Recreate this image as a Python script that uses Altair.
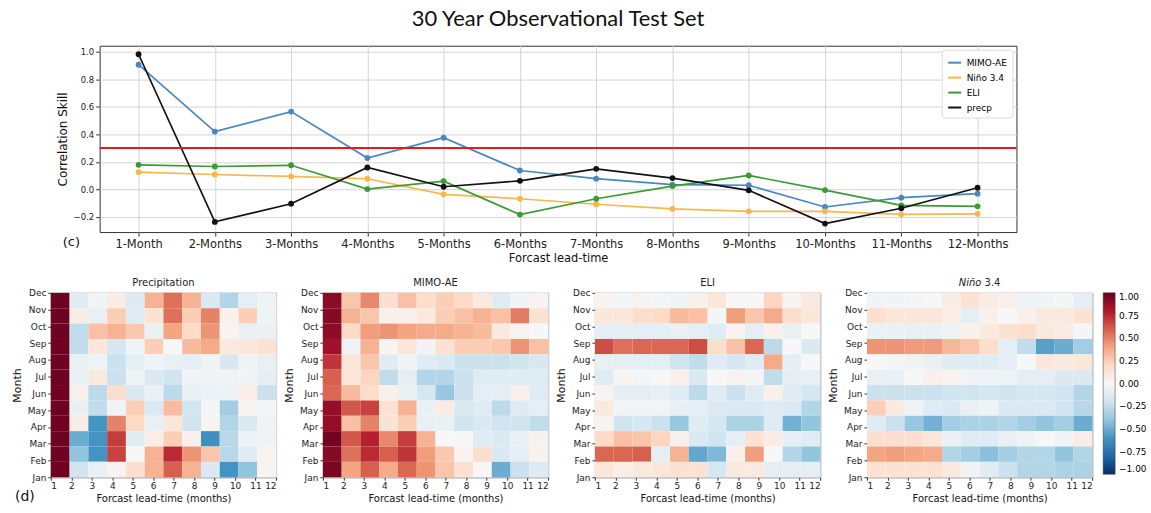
import altair as alt
import pandas as pd

# ---------------- line chart: correlation skill vs lead time ----------------
leads = list(range(1, 13))
series_names = ["MIMO-AE", "Niño 3.4", "ELI", "precp"]
series_colors = ["#4a86c0", "#f8b64c", "#3c9a35", "#111111"]

mimo_ae = [0.905, 0.42, 0.565, 0.228, 0.375, 0.137, 0.078, 0.034, 0.03, -0.128, -0.06, -0.031]
nino34 = [0.125, 0.108, 0.094, 0.077, -0.036, -0.068, -0.108, -0.142, -0.159, -0.159, -0.181, -0.178]
eli = [0.178, 0.166, 0.175, 0.002, 0.06, -0.183, -0.068, 0.024, 0.101, -0.005, -0.116, -0.123]
precp = [0.981, -0.236, -0.104, 0.159, 0.019, 0.062, 0.149, 0.082, -0.007, -0.248, -0.137, 0.012]
skill_threshold = 0.3
y_ticks = [-0.2, 0.0, 0.2, 0.4, 0.6, 0.8, 1.0]

# ---------------- monthly skill matrices (rows Dec -> Jan, columns lead 1..12) ----------------
months = ["Jan", "Feb", "Mar", "Apr", "May", "Jun", "Jul", "Aug", "Sep", "Oct", "Nov", "Dec"]

precip_rows = [
    [0.98, -0.12, -0.03, 0.08, -0.13, 0.35, 0.55, 0.35, -0.15, -0.30, -0.10, -0.05],
    [0.98, 0.08, -0.08, 0.25, -0.12, 0.15, 0.55, 0.25, 0.50, 0.04, 0.25, -0.05],
    [0.98, -0.25, 0.30, 0.35, 0.27, -0.07, 0.40, 0.20, 0.45, 0.03, -0.08, -0.07],
    [0.98, -0.25, 0.12, -0.18, -0.05, 0.25, 0.00, 0.32, 0.38, 0.10, 0.12, 0.15],
    [0.98, -0.08, -0.05, -0.22, -0.10, -0.05, -0.08, -0.10, -0.05, -0.17, -0.05, -0.08],
    [0.98, -0.07, 0.10, -0.22, -0.05, -0.15, -0.20, -0.03, -0.03, -0.04, -0.03, -0.10],
    [0.98, 0.05, -0.27, 0.18, -0.15, -0.07, -0.27, -0.08, -0.06, -0.06, 0.07, -0.22],
    [0.98, -0.08, -0.25, -0.04, 0.25, -0.15, 0.32, -0.20, -0.02, -0.35, 0.03, -0.02],
    [0.98, 0.08, -0.60, 0.50, 0.20, -0.08, 0.12, -0.20, 0.02, -0.30, -0.15, -0.04],
    [0.98, -0.50, -0.60, 0.70, -0.12, 0.07, 0.25, 0.05, -0.62, -0.28, -0.06, -0.05],
    [0.98, -0.40, -0.60, 0.68, 0.00, 0.35, 0.75, 0.45, 0.28, -0.28, -0.12, 0.03],
    [0.98, -0.20, -0.08, 0.03, 0.17, 0.35, 0.60, 0.35, -0.15, -0.60, -0.40, 0.03],
]

mimo_rows = [
    [0.90, 0.28, 0.48, 0.17, 0.30, 0.18, 0.25, 0.20, 0.10, -0.12, -0.03, 0.03],
    [0.92, 0.35, 0.28, 0.05, 0.05, 0.10, 0.25, 0.30, 0.35, 0.30, 0.52, 0.15],
    [0.90, 0.20, 0.42, 0.45, 0.40, 0.38, 0.38, 0.35, 0.32, 0.10, 0.03, 0.00],
    [0.85, -0.03, 0.35, 0.02, 0.12, -0.03, 0.15, 0.25, 0.25, 0.27, 0.45, 0.30],
    [0.72, 0.12, 0.28, -0.12, -0.03, -0.12, -0.15, -0.22, -0.22, -0.22, -0.20, -0.17],
    [0.60, 0.12, 0.22, -0.25, -0.10, -0.30, -0.30, -0.22, -0.12, -0.12, -0.12, -0.12],
    [0.58, 0.32, 0.18, 0.05, -0.07, -0.18, -0.38, -0.22, -0.10, -0.10, 0.05, -0.12],
    [0.88, 0.62, 0.68, 0.15, 0.35, -0.08, 0.08, -0.17, -0.12, -0.27, -0.13, -0.10],
    [0.88, 0.30, 0.50, 0.15, 0.25, -0.08, -0.07, -0.20, -0.15, -0.20, -0.20, -0.25],
    [0.97, 0.62, 0.78, 0.48, 0.70, 0.35, 0.00, 0.00, -0.12, -0.15, -0.07, 0.04],
    [0.92, 0.55, 0.75, 0.60, 0.72, 0.42, 0.27, 0.03, 0.18, -0.15, -0.10, 0.04],
    [0.95, 0.40, 0.60, 0.38, 0.58, 0.45, 0.28, 0.15, 0.00, -0.50, -0.22, -0.13],
]

eli_rows = [
    [0.03, -0.02, 0.03, -0.02, -0.03, 0.05, 0.12, 0.00, 0.00, 0.22, 0.02, 0.10],
    [0.12, 0.12, 0.18, 0.20, 0.32, 0.30, -0.02, 0.42, 0.28, 0.38, 0.18, 0.12],
    [-0.10, -0.10, -0.10, -0.10, -0.08, -0.10, -0.12, 0.03, -0.10, 0.05, -0.08, 0.00],
    [0.65, 0.55, 0.58, 0.58, 0.58, 0.65, 0.18, 0.30, 0.58, -0.27, 0.00, -0.15],
    [-0.08, -0.10, -0.10, -0.10, -0.20, -0.25, -0.12, -0.18, -0.12, 0.38, -0.10, 0.00],
    [-0.12, 0.02, -0.02, 0.00, 0.05, -0.15, 0.00, 0.03, -0.02, -0.25, -0.10, -0.08],
    [0.03, -0.10, -0.10, -0.08, -0.12, -0.27, -0.12, -0.22, -0.12, 0.05, -0.12, -0.18],
    [0.10, -0.03, -0.03, -0.03, -0.08, -0.10, -0.15, -0.15, -0.15, -0.12, -0.15, -0.30],
    [0.03, -0.20, -0.17, -0.22, -0.38, -0.12, -0.18, -0.32, -0.32, -0.12, -0.48, -0.40],
    [0.20, 0.30, 0.28, 0.22, 0.05, -0.15, -0.20, -0.10, 0.15, 0.08, -0.10, -0.12],
    [0.58, 0.58, 0.60, -0.10, 0.35, -0.52, -0.45, 0.05, 0.42, 0.00, -0.30, -0.40],
    [0.12, 0.07, 0.10, 0.12, 0.15, 0.15, -0.18, 0.10, 0.10, -0.10, -0.10, -0.10],
]

nino_rows = [
    [-0.03, -0.03, -0.02, 0.00, 0.08, 0.15, 0.08, 0.05, -0.05, -0.03, -0.02, -0.10],
    [0.17, 0.12, 0.12, 0.12, 0.07, -0.10, 0.05, 0.00, 0.05, 0.10, 0.10, 0.15],
    [-0.07, -0.07, -0.08, -0.07, -0.05, 0.05, 0.10, 0.15, 0.18, 0.10, 0.08, -0.02],
    [0.45, 0.45, 0.43, 0.43, 0.33, 0.28, 0.18, -0.10, -0.25, -0.55, -0.50, -0.35],
    [0.00, -0.02, -0.05, -0.08, -0.12, -0.12, -0.12, -0.10, 0.00, 0.12, 0.10, 0.12],
    [-0.08, -0.08, 0.00, 0.05, 0.03, -0.03, -0.05, -0.05, -0.10, -0.10, -0.15, -0.15],
    [-0.22, -0.22, -0.22, -0.22, -0.20, -0.20, -0.18, -0.20, -0.18, -0.18, -0.20, -0.30],
    [0.25, 0.10, -0.05, -0.12, -0.15, -0.08, -0.05, -0.15, -0.15, -0.15, -0.20, -0.28],
    [-0.12, -0.22, -0.38, -0.48, -0.35, -0.32, -0.32, -0.30, -0.35, -0.40, -0.35, -0.50],
    [0.17, 0.17, 0.17, 0.12, -0.07, -0.12, -0.12, -0.08, -0.05, 0.00, -0.03, 0.07],
    [0.40, 0.42, 0.40, 0.38, -0.30, -0.35, -0.42, -0.35, -0.30, -0.30, -0.40, -0.30],
    [0.15, 0.15, 0.15, 0.15, 0.10, -0.03, -0.12, -0.22, -0.30, -0.30, -0.32, -0.32],
]

colorbar_ticks = [1.0, 0.75, 0.5, 0.25, 0.0, -0.25, -0.5, -0.75, -1.0]
# diverging red-blue palette (blue = negative, red = positive), stops every 0.2
rdbu_stops = [-1.0, -0.8, -0.6, -0.4, -0.2, 0.0, 0.2, 0.4, 0.6, 0.8, 1.0]
rdbu_colors = ["#053061", "#2166ac", "#4393c3", "#92c5de", "#d1e5f0", "#f7f7f7",
               "#fddbc7", "#f4a582", "#d6604d", "#b2182b", "#67001f"]

FONT = "DejaVu Sans"

# ---------------- line chart ----------------
line_df = pd.DataFrame(
    [
        {"lead": lead, "skill": v, "series": name}
        for name, vals in zip(series_names, [mimo_ae, nino34, eli, precp])
        for lead, v in zip(leads, vals)
    ]
)

LW, LH = 920, 187
x_line = alt.X(
    "lead:Q",
    scale=alt.Scale(domain=[0.49, 12.51], nice=False, zero=False),
    axis=alt.Axis(
        values=leads,
        labelExpr="datum.value == 1 ? '1-Month' : datum.value + '-Months'",
        title="Forcast lead-time",
        grid=True,
        gridColor="#d4d4d4",
        labelFontSize=11.5,
        titleFontSize=11.5,
        tickSize=4,
        labelPadding=2,
        titlePadding=3,
    ),
)
y_line = alt.Y(
    "skill:Q",
    scale=alt.Scale(domain=[-0.31, 1.043], nice=False, zero=False),
    axis=alt.Axis(
        values=y_ticks,
        format=".1f",
        title="Correlation Skill",
        grid=True,
        gridColor="#d4d4d4",
        labelFontSize=8.5,
        labelOverlap=False,
        labelFlush=False,
        titleFontSize=12,
        tickSize=4,
        labelPadding=2,
        titlePadding=4,
    ),
)
color_line = alt.Color(
    "series:N",
    scale=alt.Scale(domain=series_names, range=series_colors),
    legend=alt.Legend(
        title=None,
        orient="top-right",
        offset=4,
        symbolType="stroke",
        symbolStrokeWidth=2,
        symbolSize=170,
        labelFontSize=9,
        labelFont=FONT,
        rowPadding=2,
        padding=5,
        fillColor="white",
        strokeColor="#dddddd",
        cornerRadius=3,
    ),
)

line_base = alt.Chart(line_df)
lines = line_base.mark_line(strokeWidth=1.7).encode(x=x_line, y=y_line, color=color_line)
dots = line_base.mark_circle(size=34, opacity=1).encode(x=x_line, y=y_line, color=color_line)
threshold = alt.Chart(pd.DataFrame({"skill": [skill_threshold]})).mark_rule(
    color="#e8191d", strokeWidth=2
).encode(y=y_line)
tag_c = alt.Chart(pd.DataFrame({"tag": ["(c)"]})).mark_text(
    align="left", baseline="middle", fontSize=13, font=FONT, color="#111"
).encode(x=alt.value(-37), y=alt.value(LH + 10), text="tag:N")

line_chart = alt.layer(lines, dots, threshold, tag_c).properties(
    width=LW,
    height=LH,
    title=alt.TitleParams(
        "30 Year Observational Test Set",
        fontSize=22,
        font="Lato",
        fontWeight="normal",
        anchor="middle",
        frame="group",
        offset=15,
        color="#111",
    ),
)

spacer = (
    alt.Chart(pd.DataFrame({"s": [0]}))
    .mark_point(opacity=0)
    .encode(x=alt.value(0), y=alt.value(0))
    .properties(width=2, height=10, view=alt.ViewBackground(stroke="transparent"))
)

top_row = alt.hconcat(spacer, line_chart, spacing=0).resolve_scale(color="independent")

# ---------------- heatmaps ----------------
HW, HH = 226, 185
month_expr = "[" + ",".join(f"'{m}'" for m in months) + "][datum.value - 1]"

color_heat = alt.Color(
    "corr:Q",
    scale=alt.Scale(domain=rdbu_stops, range=rdbu_colors, interpolate="rgb"),
    legend=alt.Legend(
        title=None,
        orient="right",
        direction="vertical",
        type="gradient",
        gradientLength=182,
        gradientThickness=12,
        gradientStrokeColor="#333",
        gradientStrokeWidth=0.5,
        values=colorbar_ticks,
        format=".2f",
        labelFontSize=9,
        labelFont=FONT,
        labelOffset=4,
        offset=10,
        padding=0,
    ),
)


def heat_panel(rows, title_parts):
    recs = []
    for r, vals in enumerate(rows):
        month = 12 - r
        for c, v in enumerate(vals):
            recs.append({"lead": c + 1, "month": month, "corr": v})
    df = pd.DataFrame(recs)
    cells = (
        alt.Chart(df)
        .transform_calculate(
            x0="1 + (datum.lead - 1) * 11 / 12",
            x1="1 + datum.lead * 11 / 12",
            y0="1 + (datum.month - 1) * 11 / 12",
            y1="1 + datum.month * 11 / 12",
        )
        .mark_rect()
        .encode(
            x=alt.X(
                "x0:Q",
                scale=alt.Scale(domain=[1, 12], nice=False, zero=False),
                axis=alt.Axis(
                    values=leads,
                    format="d",
                    title="Forcast lead-time (months)",
                    labelFontSize=9,
                    titleFontSize=10,
                    tickSize=3,
                    labelPadding=1,
                    titlePadding=3,
                ),
            ),
            x2="x1:Q",
            y=alt.Y(
                "y0:Q",
                scale=alt.Scale(domain=[1, 12], nice=False, zero=False),
                axis=alt.Axis(
                    values=leads,
                    labelExpr=month_expr,
                    title="Month",
                    labelFontSize=9,
                    titleFontSize=11,
                    tickSize=3,
                    labelPadding=2,
                    titlePadding=5,
                ),
            ),
            y2="y1:Q",
            color=color_heat,
        )
    )
    layers = [cells]
    for text, style, align, dx in title_parts:
        layers.append(
            alt.Chart(pd.DataFrame({"name": [text]}))
            .mark_text(
                align=align, baseline="bottom", fontSize=10, font=FONT,
                fontStyle=style, color="#222",
            )
            .encode(x=alt.value(HW / 2 + dx), y=alt.value(-5), text="name:N")
        )
    return layers


precip_layers = heat_panel(precip_rows, [("Precipitation", "normal", "center", 0)])
precip_layers.append(
    alt.Chart(pd.DataFrame({"tag": ["(d)"]}))
    .mark_text(align="left", baseline="middle", fontSize=14, font=FONT, color="#111")
    .encode(x=alt.value(-36), y=alt.value(HH + 20), text="tag:N")
)
panels = [
    alt.layer(*precip_layers).properties(width=HW, height=HH),
    alt.layer(*heat_panel(mimo_rows, [("MIMO-AE", "normal", "center", 0)])).properties(width=HW, height=HH),
    alt.layer(*heat_panel(eli_rows, [("ELI", "normal", "center", 0)])).properties(width=HW, height=HH),
    alt.layer(
        *heat_panel(nino_rows, [("Niño", "italic", "right", 1.8), ("3.4", "normal", "left", 5)])
    ).properties(width=HW, height=HH),
]
heat_row = alt.hconcat(*panels, spacing=5)

chart = (
    alt.vconcat(top_row, heat_row, spacing=12)
    .resolve_scale(color="independent")
    .properties(padding={"left": 10, "top": 6, "right": 4, "bottom": 4}, background="white")
    .configure_view(stroke="#333", strokeWidth=1)
    .configure_axis(
        labelFont=FONT,
        titleFont=FONT,
        labelColor="#222",
        titleColor="#111",
        titleFontWeight="normal",
        tickColor="#333",
        domain=False,
    )
)

chart.save("out.html", embed_options={"renderer": "svg", "actions": False})
